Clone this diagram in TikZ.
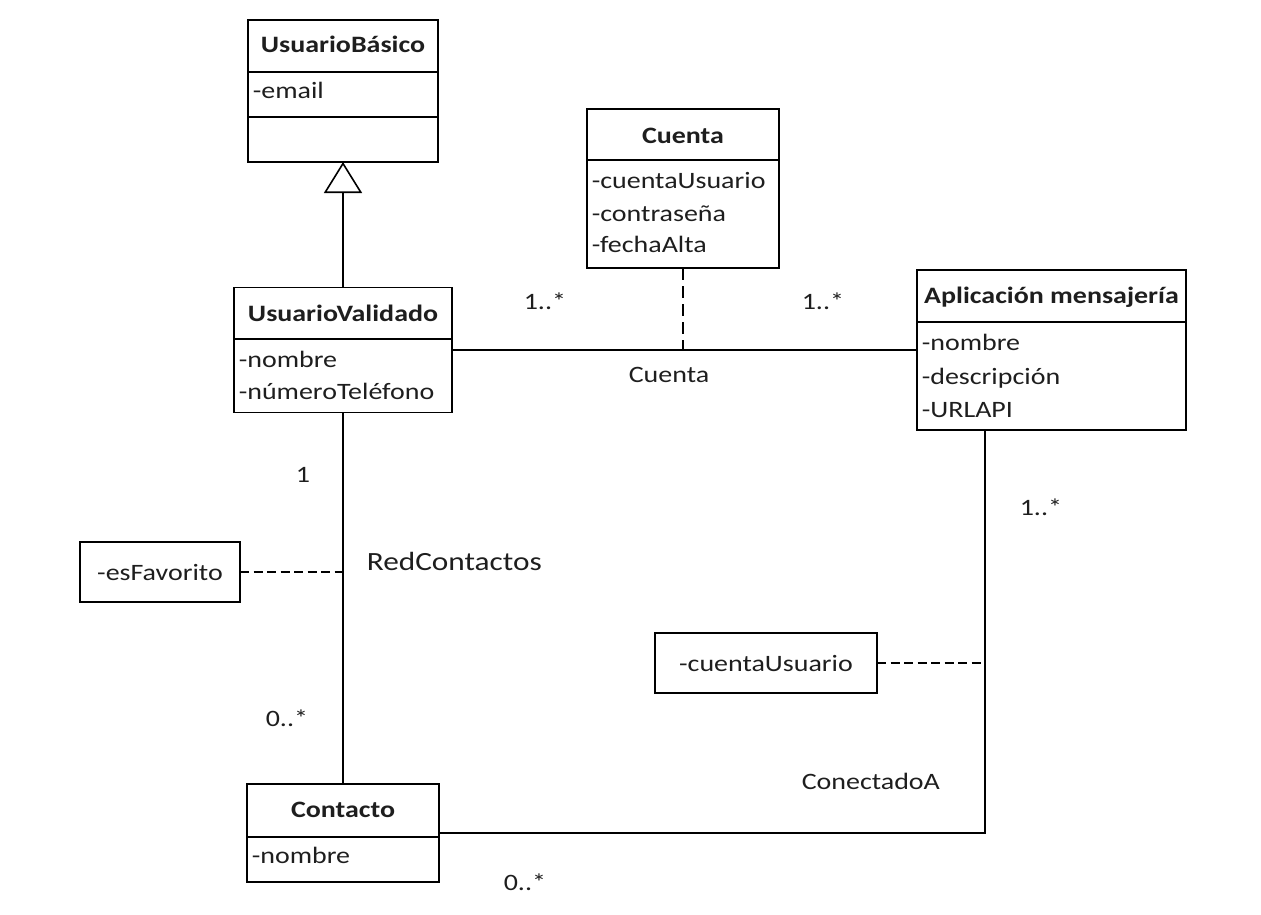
\documentclass[tikz,border=0pt]{standalone}
\usepackage{fontspec}
\setmainfont{Carlito}[FakeStretch=1.19]
\usetikzlibrary{arrows.meta,calc}
\definecolor{ink}{HTML}{1E1E1E}
\begin{document}
\begin{tikzpicture}[x=1pt,y=-1pt,line width=1.6pt,
  box/.style={draw, rectangle, inner sep=0pt, outer sep=0pt, anchor=north west},
  title/.style={font=\fontsize{23.5}{28}\selectfont\bfseries, text=ink, anchor=base, inner sep=0pt},
  attr/.style={font=\fontsize{23.5}{28}\selectfont, text=ink, anchor=base west, inner sep=0pt},
  lbl/.style={font=\fontsize{23.5}{28}\selectfont, text=ink, anchor=base west, inner sep=0pt},
  notebox/.style={draw, rectangle, inner sep=0pt, outer sep=0pt, font=\fontsize{23.5}{28}\selectfont, text=ink},
  dashline/.style={dash pattern=on 9pt off 4.5pt},
  vdashline/.style={dash pattern=on 12pt off 6pt}]
\useasboundingbox (0,0) rectangle (1261,915);

% UsuarioBasico
\node[box, minimum width=190pt, minimum height=142pt] (ub) at (248,20) {};
\draw ([yshift=-52pt]ub.north west) -- ([yshift=-52pt]ub.north east);
\draw ([yshift=-97pt]ub.north west) -- ([yshift=-97pt]ub.north east);
\node[title] (ubt) at (343,53) {UsuarioBásico};
\node[attr] (uba) at (252,99) {-email};

% UsuarioValidado
\node[box, minimum width=218pt, minimum height=125pt] (uv) at (234,287.5) {};
\draw ([yshift=-51.5pt]uv.north west) -- ([yshift=-51.5pt]uv.north east);
\node[title] (uvt) at (343,321) {UsuarioValidado};
\node[attr] (uva1) at (238,367) {-nombre};
\node[attr] (uva2) at (238,399) {-númeroTeléfono};

% Cuenta
\node[box, minimum width=192pt, minimum height=159pt] (cu) at (587,109) {};
\draw ([yshift=-51pt]cu.north west) -- ([yshift=-51pt]cu.north east);
\node[title] (cut) at (683,143) {Cuenta};
\node[attr] (cua1) at (591,188) {-cuentaUsuario};
\node[attr] (cua2) at (591,221) {-contraseña};
\node[attr] (cua3) at (591,252) {-fechaAlta};

% Aplicacion mensajeria
\node[box, minimum width=269pt, minimum height=160pt] (app) at (917,270) {};
\draw ([yshift=-52pt]app.north west) -- ([yshift=-52pt]app.north east);
\node[title] (appt) at (1051.5,303) {Aplicación mensajería};
\node[attr] (appa1) at (921,350) {-nombre};
\node[attr] (appa2) at (921,384) {-descripción};
\node[attr] (appa3) at (921,417) {-URLAPI};

% Contacto
\node[box, minimum width=192pt, minimum height=98pt] (ct) at (247,784) {};
\draw ([yshift=-53pt]ct.north west) -- ([yshift=-53pt]ct.north east);
\node[title] (ctt) at (343,817) {Contacto};
\node[attr] (cta1) at (251,863) {-nombre};

% association class boxes
\node[notebox, minimum width=160pt, minimum height=60pt] (fav) at (160,572) {-esFavorito\hspace{6pt}};
\node[notebox, minimum width=222pt, minimum height=60pt] (cub) at (766,663) {-cuentaUsuario\hspace{18pt}};

% connectors
\draw[-{Triangle[open,length=31pt,width=38pt]}] (uv.north) -- (ub.south);
\draw (uv.east) -- (app.west);
\coordinate (ca) at (683,350);
\draw[vdashline] (cu.south) -- (ca);
\draw (uv.south) -- (ct.north);
\coordinate (rc) at (343,572);
\draw[dashline] (fav.east) -- (rc);
\coordinate (corner) at (985,833);
\draw (ct.east) -- (corner) -- (corner |- app.south);
\coordinate (cn) at (985,663);
\draw[dashline] (cub.east) -- (cn);

% labels
\node[lbl] (m1) at (523,309) {1..*};
\node[lbl] (m2) at (801,309) {1..*};
\node[lbl] (lc) at (628,382) {Cuenta};
\node[lbl] (m3) at (295,482) {1};
\node[lbl, font=\fontsize{26.3}{30}\selectfont] (lrc) at (366,570) {RedContactos};
\node[lbl] (m4) at (265,726) {0..*};
\node[lbl] (m5) at (1019,515) {1..*};
\node[lbl] (lca) at (801,789) {ConectadoA};
\node[lbl] (m6) at (503,890) {0..*};
\end{tikzpicture}
\end{document}
